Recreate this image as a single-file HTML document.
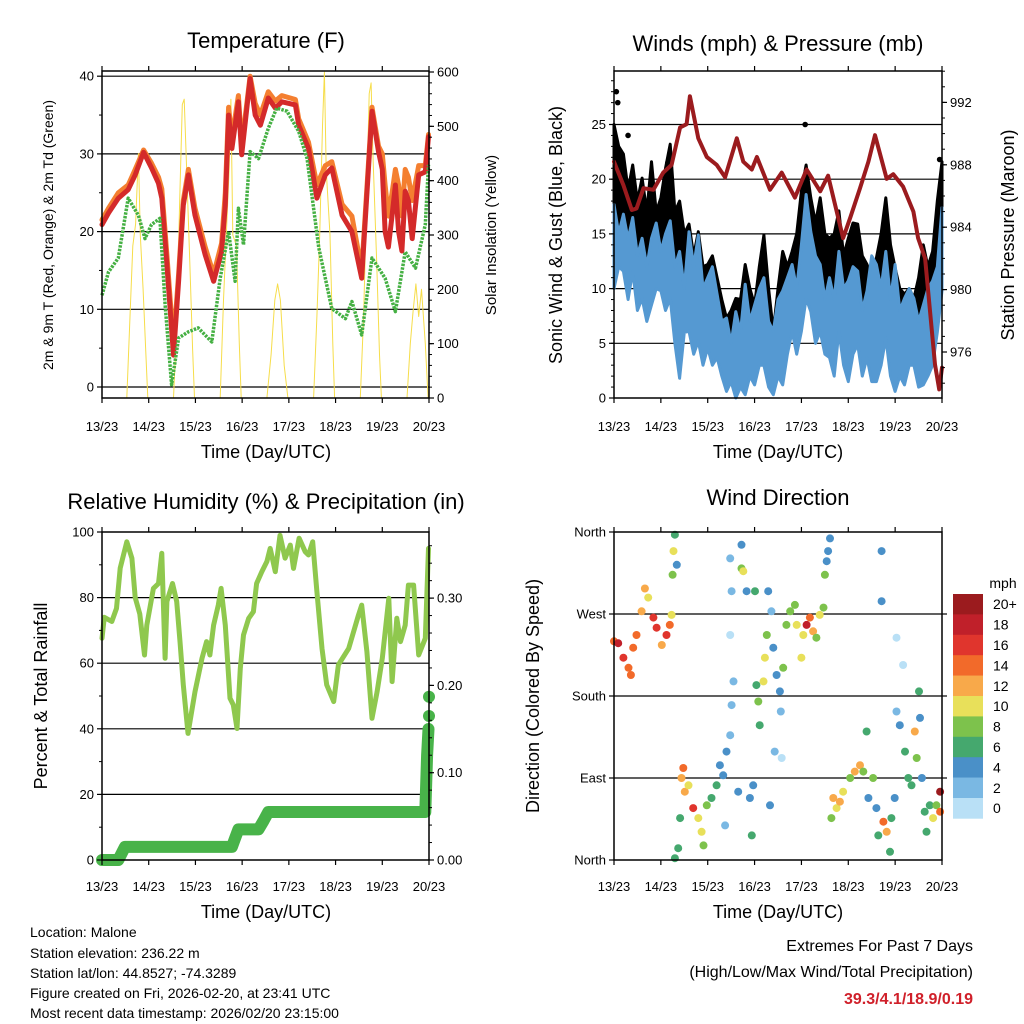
<!DOCTYPE html>
<html><head><meta charset="utf-8"><style>
html,body{margin:0;padding:0;background:#fff;}
svg{display:block;font-family:"Liberation Sans",sans-serif;}
</style></head><body>
<svg id="s" width="1024" height="1024" viewBox="0 0 1024 1024" xmlns="http://www.w3.org/2000/svg">
<rect width="1024" height="1024" fill="#fff"/>
<text x="266" y="48" font-size="22" text-anchor="middle">Temperature (F)</text>
<text x="778" y="51" font-size="22" text-anchor="middle">Winds (mph) &amp; Pressure (mb)</text>
<text x="266" y="509" font-size="22" text-anchor="middle">Relative Humidity (%) &amp; Precipitation (in)</text>
<text x="778" y="505" font-size="22" text-anchor="middle">Wind Direction</text>
<text x="266" y="458" font-size="18" text-anchor="middle">Time (Day/UTC)</text>
<text x="778" y="458" font-size="18" text-anchor="middle">Time (Day/UTC)</text>
<text x="266" y="918" font-size="18" text-anchor="middle">Time (Day/UTC)</text>
<text x="778" y="918" font-size="18" text-anchor="middle">Time (Day/UTC)</text>
<text transform="translate(53,235) rotate(-90)" font-size="14" text-anchor="middle">2m &amp; 9m T (Red, Orange) &amp; 2m Td (Green)</text>
<text transform="translate(496,235) rotate(-90)" font-size="15" text-anchor="middle">Solar Insolation (Yellow)</text>
<text transform="translate(562,235) rotate(-90)" font-size="18" text-anchor="middle">Sonic Wind &amp; Gust (Blue, Black)</text>
<text transform="translate(1014,235) rotate(-90)" font-size="18" text-anchor="middle">Station Pressure (Maroon)</text>
<text transform="translate(47,696) rotate(-90)" font-size="18" text-anchor="middle">Percent &amp; Total Rainfall</text>
<text transform="translate(539,696) rotate(-90)" font-size="18" text-anchor="middle">Direction (Colored By Speed)</text>
<g font-size="14">
<text x="30" y="937">Location: Malone</text>
<text x="30" y="958">Station elevation: 236.22 m</text>
<text x="30" y="978">Station lat/lon: 44.8527; -74.3289</text>
<text x="30" y="998">Figure created on Fri, 2026-02-20, at 23:41 UTC</text>
<text x="30" y="1018">Most recent data timestamp: 2026/02/20 23:15:00</text>
</g>
<g font-size="16" text-anchor="end">
<text x="973" y="951">Extremes For Past 7 Days</text>
<text x="973" y="977">(High/Low/Max Wind/Total Precipitation)</text>
<text x="973" y="1004" fill="#d0202a" font-weight="bold">39.3/4.1/18.9/0.19</text>
</g>
<g id="g"></g>
</svg>
<script>
// ---------- data ----------
const dayLabels = ["13/23","14/23","15/23","16/23","17/23","18/23","19/23","20/23"];
const tempDays = [0,0.14,0.35,0.56,0.71,0.89,1.06,1.21,1.28,1.39,1.53,1.64,1.74,1.85,1.99,2.21,2.39,2.56,2.64,2.71,2.78,2.92,2.99,3.17,3.28,3.39,3.56,3.71,3.85,4.14,4.21,4.42,4.6,4.78,4.92,5.14,5.35,5.56,5.78,5.92,6.0,6.06,6.13,6.21,6.28,6.35,6.42,6.49,6.56,6.64,6.78,6.92,6.99];
const temp2m = [20.9,22.4,24.3,25.4,27.3,30.2,28.2,26.2,24.3,15.7,4.1,13.6,23.4,27.3,22.1,17,13.6,17.4,23.4,35,30.7,36.7,29.9,39.7,35,33.7,37.2,35.9,36.7,36.3,33.7,30.7,24.3,27.3,28.2,22.1,20,14,35.5,30.3,28,20,18,22.1,26,20,17.5,25.2,24,19.1,27.3,27.7,32.2];
const temp9m = [21.5,23,25,26,28,30.5,28.8,27,25.5,17,5.5,14.5,24,28,23,18,14.5,18.5,25,36,32,37.5,31,40,36.5,35,38,36.8,37.5,37,34.5,31.5,26,28.5,29,23.5,22,15,36,31,30,26,22,25,28,26,22,28,27,24,28.5,28.5,32.5];
const dewDays = [0,0.14,0.35,0.56,0.78,0.92,1.06,1.24,1.35,1.49,1.64,1.85,2.06,2.35,2.53,2.71,2.85,2.92,3.03,3.17,3.35,3.56,3.74,3.96,4.21,4.39,4.64,4.92,5.21,5.35,5.56,5.78,6.06,6.28,6.49,6.71,6.92,6.99];
const dewPoint = [11.8,14.8,16.6,24.3,22.1,19.1,20.9,21.7,10.6,0.3,6.3,7.1,7.6,5.8,14,20,13.6,23,18.3,30.3,29.4,33.3,35.9,35.5,32.9,29.4,17.9,10.1,8.8,11,6.7,16.6,14,9.7,17.4,15.3,20.9,28.6];
const solarDays = [0.53,0.6,0.66,0.72,0.78,0.82,0.88,0.94,0.98, 1.53,1.6,1.66,1.72,1.76,1.8,1.88,1.94,1.98, 2.53,2.6,2.66,2.72,2.76,2.8,2.88,2.94,2.98, 3.53,3.62,3.7,3.76,3.82,3.9,3.98, 4.53,4.6,4.66,4.72,4.76,4.8,4.88,4.94,4.98, 5.53,5.6,5.66,5.72,5.76,5.8,5.88,5.94,5.98, 6.53,6.6,6.66,6.72,6.78,6.84,6.92,6.98];
const solar = [0,150,280,320,450,300,200,80,0, 0,130,350,540,550,450,250,90,0, 0,180,300,420,550,300,280,100,0, 0,80,180,210,180,60,0, 0,150,300,500,600,420,300,100,0, 0,150,350,560,580,450,250,80,0, 0,100,160,210,150,200,100,0];

const windDays = [0,0.1,0.2,0.3,0.4,0.5,0.6,0.7,0.8,0.9,1.0,1.1,1.2,1.3,1.4,1.5,1.6,1.7,1.8,1.9,2.0,2.1,2.2,2.3,2.4,2.5,2.6,2.7,2.8,2.9,3.0,3.1,3.2,3.3,3.4,3.5,3.6,3.7,3.8,3.9,4.0,4.1,4.2,4.3,4.4,4.5,4.6,4.7,4.8,4.9,5.0,5.1,5.2,5.3,5.4,5.5,5.6,5.7,5.8,5.9,6.0,6.1,6.2,6.3,6.4,6.5,6.6,6.7,6.8,6.9,7.0];
const windHigh = [17.7,15,16.8,14.5,16.5,13,14.6,12,14.6,16,13.4,15,16.2,12,13.4,10,15.2,12,14.9,10,11,12,9.5,7,7.3,5,7.9,6,10.4,7,8.5,10,11,7,6.1,9,9.8,11,12.2,10,14,18.6,15.2,13,12.2,9,11,9,13.4,10,10.7,12,11.6,8,9.8,13,12.2,10,13.4,9,12.2,8,9.1,10,9.1,7,8.5,10,10.7,12,17.4];
const windLow = [10,12,11.6,9,11.6,8,9.1,7,8.5,10,9.8,8,9.1,5,1.8,6,6.1,4,5.2,3,4.6,3,3.7,2,0.6,1.5,0,1,0.3,2,1.2,3,3,1,0.3,2,1.2,4,6.1,4,6.1,9.1,7.9,5,6.1,4,3.7,2,6.1,3,1.5,4,4.9,2,3.7,1.5,1.5,3,5.5,2,0.6,2,1.2,3,3,1,1.2,2,3,6,9.8];
const gustHigh = [25,23,22.3,19,21.3,18,20.1,17,21.6,17,18.3,21,23.2,17,18,15,15.9,13,15.2,12,12.2,13,11,9,7.3,8,9.1,9,12.2,10,8.5,12,14.9,10,6.1,10,13.4,12,13.4,15,18.9,21.3,18.3,16,18.3,15,14.6,15,17.1,13,14.6,16,15.9,13,12.2,11,12.8,15,18.3,14,11.9,10,9.5,10,9.1,11,14,12,13.4,18,21.6];
const gustLow = [13.4,14,14.6,13,13.4,12,12.2,11,12.8,13,13.4,14,14.6,12,11.6,10,10.4,9,8.5,8,7.9,7,6.1,5,4.3,4,5.5,5,7.3,6,4.9,7,9.8,6,3.7,6,8.5,9,9.8,10,12.2,13.4,12.2,10,11,9,9.1,9,10.4,9,8.5,10,11,8,7.3,7,7.9,9,11.6,9,7.9,7,7.3,7,6.7,7,7.9,8,8.5,11,13.4];
const gustPeakDays = [0.05,0.08,4.08,0.3,1.15,6.95];
const gustPeaks = [28,27,25,24,21.5,21.8];
const presDays = [0,0.2,0.38,0.48,0.63,0.84,1.05,1.23,1.41,1.55,1.62,1.8,1.98,2.19,2.37,2.62,2.76,2.94,3.05,3.33,3.58,3.86,4.11,4.4,4.57,4.89,5.04,5.25,5.43,5.57,5.82,5.96,6.17,6.39,6.49,6.64,6.85,6.94,7.0];
const pressure = [988.2,986.7,985.1,985.2,986.5,986.4,987.5,988,990.4,990.6,992.4,989.7,988.5,988,987.2,989.7,988.2,987.7,988.5,986.4,987.5,985.9,987.7,986.3,987.3,983.3,984.6,986.5,988.2,989.9,987.1,987.4,986.6,985,983.3,982,975.2,973.6,975];

const rhDays = [0,0.05,0.21,0.31,0.39,0.53,0.64,0.71,0.81,0.91,0.96,1.1,1.21,1.28,1.35,1.39,1.51,1.6,1.67,1.74,1.84,1.99,2.14,2.24,2.31,2.39,2.49,2.55,2.64,2.74,2.81,2.89,2.96,3.03,3.14,3.24,3.31,3.42,3.53,3.6,3.71,3.81,3.92,4.03,4.1,4.22,4.35,4.42,4.51,4.6,4.71,4.81,4.96,5.06,5.28,5.49,5.56,5.67,5.78,5.89,6.0,6.14,6.21,6.31,6.39,6.49,6.56,6.67,6.78,6.92,6.99];
const rh = [67.6,74,72.7,76.7,89,97,92,80,75,62.5,71.6,82.8,84.3,93.5,61.5,78.8,84.3,78.8,66.6,53.4,38.6,51.3,61.5,66.6,62.5,71.6,77.7,82.8,71.6,49.3,47.3,40.1,58.4,68.6,73.7,75.7,84.3,87.9,91,95,87.9,99,92,96,88.9,98.1,94,93,97,81.8,64.5,53.4,48.3,59.5,64.5,74.7,77.7,63.5,43.2,51.3,61.5,79.8,54.4,73.7,66.6,71.6,83.8,83.8,62.5,67.6,95];
const precipDays = [0,0.35,0.49,2.78,2.85,2.92,3.35,3.46,3.56,6.92,6.96,6.99];
const precip = [0,0,0.015,0.015,0.025,0.035,0.035,0.045,0.055,0.055,0.12,0.15];
const precipDotDays = [7.0,7.0];
const precipDots = [0.165,0.187];

const dirDays = [0,0.09,0.2,0.31,0.36,0.41,0.48,0.59,0.66,0.73,0.84,0.91,1.02,1.12,1.19,1.23,1.25,1.27,1.3,1.34,1.3,1.37,1.41,1.44,1.48,1.51,1.59,1.69,1.8,1.87,1.91,1.98,2.08,2.19,2.26,2.33,2.37,2.4,2.48,2.51,2.55,2.48,2.51,2.48,2.65,2.72,2.76,2.72,2.83,2.9,2.94,2.97,3.01,3.04,3.08,3.11,3.19,3.22,3.26,3.29,3.33,3.36,3.4,3.43,3.47,3.54,3.56,3.58,3.61,3.68,3.76,3.86,3.9,4.0,4.04,4.11,4.18,4.25,4.32,4.39,4.47,4.5,4.54,4.57,4.61,4.64,4.68,4.75,4.82,4.89,5.04,5.14,5.25,5.32,5.39,5.43,5.53,5.6,5.64,5.71,5.71,5.75,5.82,5.89,5.92,5.99,6.03,6.03,6.1,6.17,6.21,6.28,6.35,6.42,6.46,6.51,6.53,6.57,6.63,6.67,6.74,6.81,6.88,6.96,6.96];
const dirDeg = [240,238,222,211,203,233,247,273,298,288,266,255,236,247,258,269,313,339,357,324,2,13,46,90,101,75,82,57,46,31,16,60,68,82,104,93,38,119,137,170,196,247,295,331,75,320,317,346,295,68,27,82,295,192,174,148,196,222,247,295,60,273,233,119,203,185,163,112,211,258,273,280,258,222,247,258,266,251,244,269,277,313,328,339,353,46,68,57,64,75,90,97,104,97,141,68,90,57,27,339,284,42,31,9,46,68,244,163,148,214,119,90,82,141,112,185,156,90,53,31,60,46,60,75,53];
const dirSpeed = [14,18,16,15,14,15,14,12,12,10,16,16,12,16,14,10,8,10,6,4,6,6,6,12,14,12,10,16,10,10,8,8,6,6,4,4,2,4,2,2,2,0,2,2,4,8,10,4,4,4,6,4,6,6,8,6,10,10,8,4,4,2,4,2,4,4,2,0,8,8,8,8,10,10,10,18,14,12,8,10,8,8,4,4,4,8,12,10,12,10,8,12,12,8,6,4,8,4,6,4,4,14,12,6,6,4,0,2,4,0,6,6,6,12,8,6,4,4,6,6,6,10,8,20,14];
const speedBins = ["0","2","4","6","8","10","12","14","16","18","20+"];
const speedColors = ["#b9e0f6","#7ab8e3","#4a90c8","#45a86e","#7dc24c","#e8e05a","#f8a94a","#f26a2a","#e0352d","#c0202a","#9b1b1e"];

// ---------- helpers ----------
const NS = "http://www.w3.org/2000/svg";
const G = document.getElementById("g");
function mk(tag, attrs, parent){
  const e = document.createElementNS(NS, tag);
  for (const k in attrs) e.setAttribute(k, attrs[k]);
  (parent || G).appendChild(e);
  return e;
}
function polyline(xs, ys, fx, fy, stroke, w, name, extra){
  const pts = xs.map((d,i)=>fx(d).toFixed(1)+","+fy(ys[i]).toFixed(1)).join(" ");
  const e = mk("polyline", Object.assign({points:pts, fill:"none", stroke:stroke, "stroke-width":w, "stroke-linejoin":"round", "stroke-linecap":"round"}, extra||{}));
  
  
  return e;
}
function band(xs, hi, lo, fx, fy, fill, name){
  const top = xs.map((d,i)=>fx(d).toFixed(1)+","+fy(hi[i]).toFixed(1));
  const bot = xs.map((d,i)=>fx(d).toFixed(1)+","+fy(lo[i]).toFixed(1)).reverse();
  const e = mk("polygon", {points: top.concat(bot).join(" "), fill: fill, stroke: fill, "stroke-width": 3, "stroke-linejoin":"round"});
  
  
}
function hline(x1,x2,y,name,w){
  const e = mk("line",{x1:x1,x2:x2,y1:y,y2:y,stroke:"#000","stroke-width":w||1.2});
  
  
}
function frame(x0,y0,x1,y1,name){
  const e = mk("rect",{x:x0,y:y0,width:x1-x0,height:y1-y0,fill:"none",stroke:"#000","stroke-width":1.5});
  
  
}
function xAxis(x0,x1,y0,y1,ly,prefix){
  dayLabels.forEach((lab,i)=>{
    const x = x0 + i*(x1-x0)/7;
    mk("line",{x1:x,x2:x,y1:y1,y2:y1+5,stroke:"#000","stroke-width":1.2});
    mk("line",{x1:x,x2:x,y1:y0,y2:y0-5,stroke:"#000","stroke-width":1.2});
    const t = mk("text",{x:x,y:ly,"font-size":13,"text-anchor":"middle"});
    t.textContent = lab;
    
    
  });
}
function yTicks(vals, labels, fy, x, side, name, minor){
  vals.forEach((v,i)=>{
    const y = fy(v);
    mk("line",{x1:x,x2:x+(side<0?-5:5),y1:y,y2:y,stroke:"#000","stroke-width":1.2});
    const t = mk("text",{x:x+(side<0?-8:8),y:y+4.5,"font-size":13,"text-anchor":side<0?"end":"start"});
    t.textContent = labels[i];
    
    
  });
  (minor||[]).forEach(v=>{
    const y = fy(v);
    mk("line",{x1:x,x2:x+(side<0?-3:3),y1:y,y2:y,stroke:"#000","stroke-width":1});
  });
}
function range(a,b,s){const r=[];for(let v=a;v<=b+1e-9;v+=s)r.push(+v.toFixed(4));return r;}

// ---------- panel 1: temperature ----------
(function(){
  const X0=102,X1=429,Y0=71,Y1=398;
  const fx = d => X0 + d*(X1-X0)/7;
  const fy = v => 387 - v*7.77;
  const fs = v => 398 - v*(326/600);
  [0,10,20,30,40].forEach(v=>hline(X0,X1,fy(v),"temp-gridline"));
  polyline(solarDays, solar, fx, fs, "#f6dd4a", 1, "solar-insolation-line");
  polyline(tempDays, temp9m, fx, fy, "#f47f30", 5, "temp-9m-line");
  polyline(tempDays, temp2m, fx, fy, "#d42a2a", 5, "temp-2m-line");
  polyline(dewDays, dewPoint, fx, fy, "#45b043", 3.5, "dewpoint-line", {"stroke-dasharray":"2.5 1.2","stroke-linecap":"butt"});
  frame(X0,Y0,X1,Y1,"temp-plot-frame");
  xAxis(X0,X1,Y0,Y1,431,"temp");
  yTicks([0,10,20,30,40],["0","10","20","30","40"],fy,X0,-1,"temp-y-tick-label",[5,15,25,35]);
  yTicks([0,100,200,300,400,500,600],["0","100","200","300","400","500","600"],fs,X1,1,"solar-y-tick-label",range(20,580,20));
})();

// ---------- panel 2: winds ----------
(function(){
  const X0=614,X1=942,Y0=71,Y1=398;
  const fx = d => X0 + d*(X1-X0)/7;
  const fy = v => 398 - v*10.94;
  const fp = v => 352 - (v-976)*15.6;
  [5,10,15,20,25].forEach(v=>hline(X0,X1,fy(v),"wind-gridline"));
  band(windDays, gustHigh, gustLow, fx, fy, "#000", "gust-band");
  gustPeakDays.forEach((d,i)=>{
    const c = mk("circle",{cx:fx(d),cy:fy(gustPeaks[i]),r:2.8,fill:"#000"});
    
    
  });
  band(windDays, windHigh, windLow, fx, fy, "#5599d2", "wind-speed-band");
  polyline(presDays, pressure, fx, fp, "#9b1b1e", 4, "pressure-line");
  frame(X0,Y0,X1,Y1,"winds-plot-frame");
  xAxis(X0,X1,Y0,Y1,431,"winds");
  yTicks([0,5,10,15,20,25],["0","5","10","15","20","25"],fy,X0,-1,"wind-y-tick-label",range(1,29,1));
  yTicks([976,980,984,988,992],["976","980","984","988","992"],fp,X1,1,"pressure-y-tick-label",range(974,994,1));
})();

// ---------- panel 3: humidity & precip ----------
(function(){
  const X0=102,X1=429,Y0=532,Y1=860;
  const fx = d => X0 + d*(X1-X0)/7;
  const fy = v => 860 - v*3.28;
  const fr = v => 860 - v*873;
  [20,40,60,80].forEach(v=>hline(X0,X1,fy(v),"humidity-gridline"));
  polyline(rhDays, rh, fx, fy, "#8fc84e", 5, "relative-humidity-line");
  polyline(precipDays, precip, fx, fr, "#48b349", 12, "precipitation-line");
  precipDotDays.forEach((d,i)=>{
    const c = mk("circle",{cx:fx(d),cy:fr(precipDots[i]),r:6,fill:"#48b349"});
    
    
  });
  frame(X0,Y0,X1,Y1,"humidity-plot-frame");
  xAxis(X0,X1,Y0,Y1,891,"humidity");
  yTicks([0,20,40,60,80,100],["0","20","40","60","80","100"],fy,X0,-1,"humidity-y-tick-label",[10,30,50,70,90]);
  yTicks([0,0.1,0.2,0.3],["0.00","0.10","0.20","0.30"],fr,X1,1,"precip-y-tick-label",range(0.02,0.36,0.02));
})();

// ---------- panel 4: wind direction ----------
(function(){
  const X0=614,X1=942,Y0=532,Y1=860;
  const fx = d => X0 + d*(X1-X0)/7;
  const fy = v => 860 - v*(328/360);
  [90,180,270].forEach(v=>hline(X0,X1,fy(v),"direction-gridline"));
  dirDays.forEach((d,i)=>{
    const b = Math.min(10, Math.floor(dirSpeed[i]/2));
    const c = mk("circle",{cx:fx(d).toFixed(1),cy:fy(dirDeg[i]).toFixed(1),r:4,fill:speedColors[b]});
    
    
  });
  frame(X0,Y0,X1,Y1,"direction-plot-frame");
  xAxis(X0,X1,Y0,Y1,891,"direction");
  yTicks([0,90,180,270,360],["North","East","South","West","North"],fy,X0,-1,"direction-y-tick-label",[]);
  [90,180,270].forEach(v=>mk("line",{x1:X1,x2:X1+5,y1:fy(v),y2:fy(v),stroke:"#000","stroke-width":1.2}));
  const cbX=953, cbW=30, cbTop=594, cbH=20.4;
  const cl = mk("text",{x:1003,y:588,"font-size":14,"text-anchor":"middle"});
  cl.textContent = "mph";
  
  
  for (let i=0;i<speedBins.length;i++){
    const k = speedBins.length-1-i;
    const y = cbTop + i*cbH;
    const r = mk("rect",{x:cbX,y:y,width:cbW,height:cbH+0.3,fill:speedColors[k]});
    
    
    const t = mk("text",{x:993,y:y+cbH/2+5,"font-size":14});
    t.textContent = speedBins[k];
    
    
  }
})();
</script>
</body></html>
